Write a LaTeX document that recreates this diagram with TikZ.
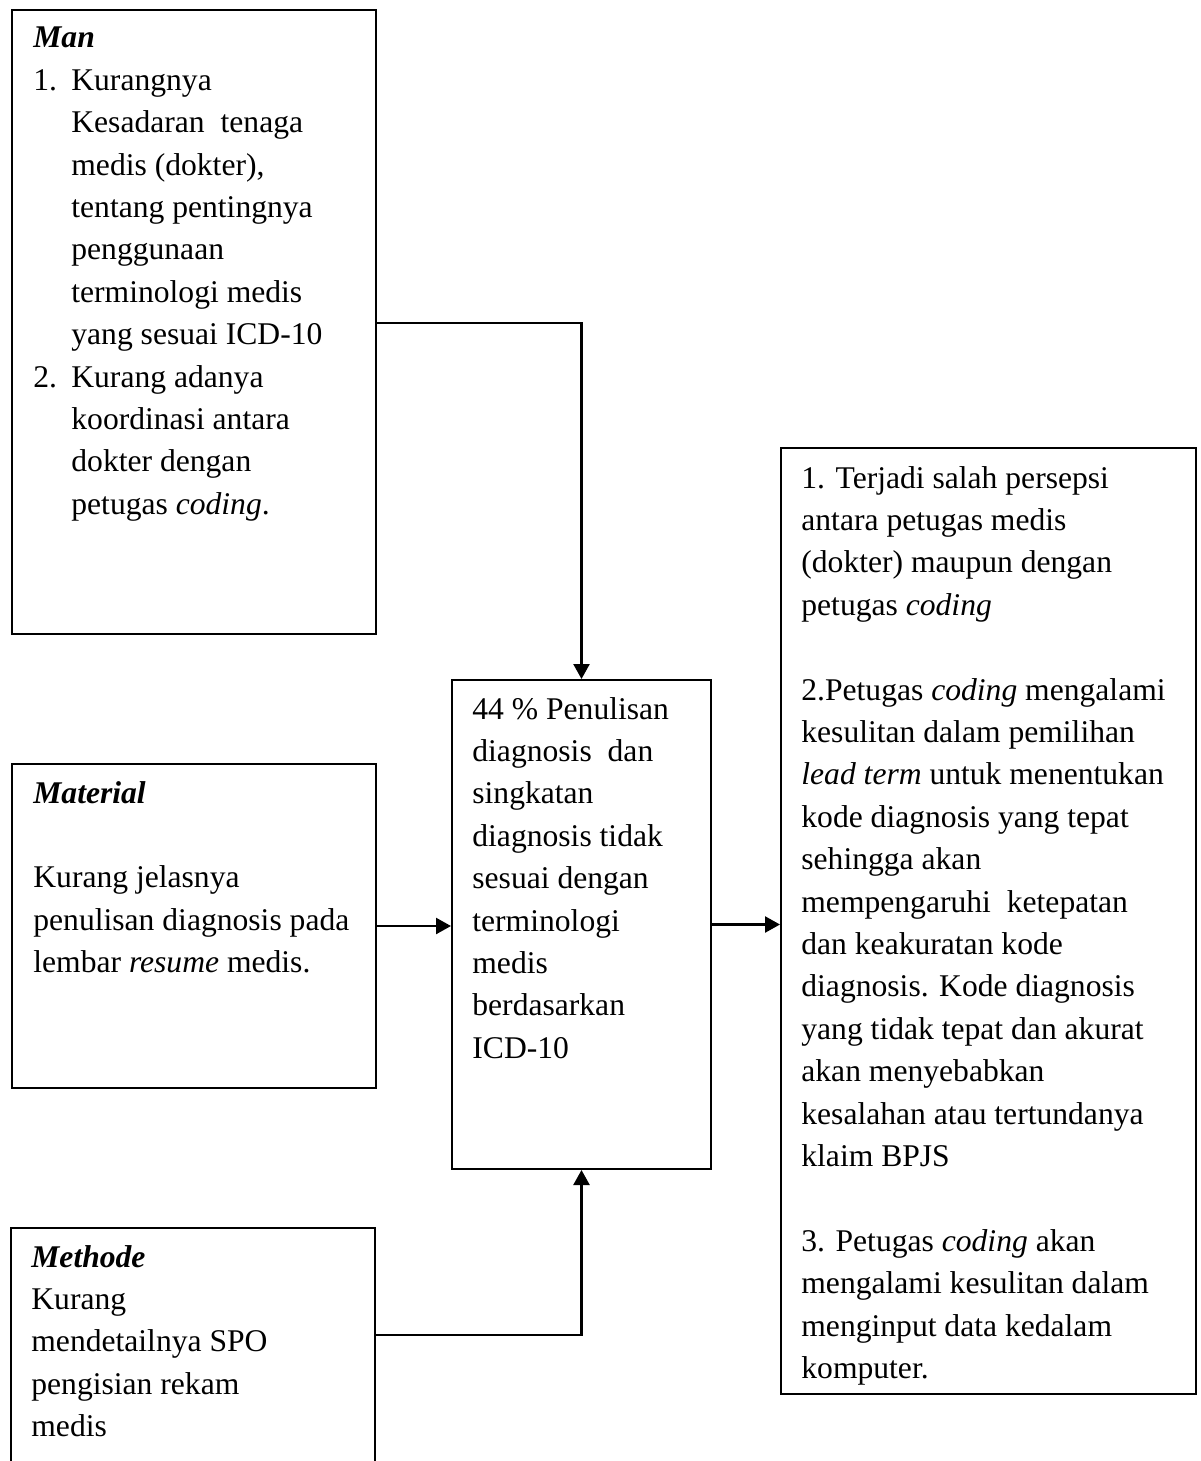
\documentclass[tikz,border=0pt]{standalone}
\usepackage{fontspec}
\setmainfont{Liberation Serif}
\usetikzlibrary{arrows.meta}
\newcommand\mylines[1]{\vtop{\baselineskip=21.2pt\lineskiplimit=-100pt\lineskip=0pt\relax #1}}
\newcommand\lbl[1]{\makebox[19pt][l]{#1}}
\newcommand\ind{\hspace*{19pt}}
\newcommand\hd[1]{\textbf{\textit{#1}}}
\begin{document}
\begin{tikzpicture}[x=0.5pt,y=-0.5pt,
  box/.style={draw, line width=1pt, anchor=north west, inner sep=0pt},
  txt/.style={anchor=base west, inner sep=0pt, font=\fontsize{15.8pt}{21.2pt}\selectfont},
  arr/.style={line width=1.2pt, -{Triangle[length=7.5pt,width=8pt]}}]
\useasboundingbox (0,0) rectangle (1200,1461);
\clip (0,0) rectangle (1200,1461);

% boxes
\node[box, minimum width=182pt, minimum height=312pt] (man) at (11,9) {};
\node[box, minimum width=182pt, minimum height=162pt] (mat) at (11,763) {};
\node[box, minimum width=182pt, minimum height=150pt] (met) at (10,1227) {};
\node[box, minimum width=129.5pt, minimum height=244.5pt] (cen) at (451,679) {};
\node[box, minimum width=207.5pt, minimum height=473pt] (res) at (780,447) {};

% texts
\node[txt] (mantext) at (33,48) {\mylines{%
\hbox{\hd{Man}}
\hbox{\lbl{1.}Kurangnya}
\hbox{\ind Kesadaran\hspace{4pt} tenaga}
\hbox{\ind medis (dokter),}
\hbox{\ind tentang pentingnya}
\hbox{\ind penggunaan}
\hbox{\ind terminologi medis}
\hbox{\ind yang sesuai ICD-10}
\hbox{\lbl{2.}Kurang adanya}
\hbox{\ind koordinasi antara}
\hbox{\ind dokter dengan}
\hbox{\ind petugas \textit{coding}.}}};

\node[txt] (mattext) at (33,803) {\mylines{%
\hbox{\hd{Material}}
\hbox{}
\hbox{Kurang jelasnya}
\hbox{penulisan diagnosis pada}
\hbox{lembar \textit{resume} medis.}}};

\node[txt] (mettext) at (31,1267) {\mylines{%
\hbox{\hd{Methode}}
\hbox{Kurang}
\hbox{mendetailnya SPO}
\hbox{pengisian rekam}
\hbox{medis}}};

\node[txt] (centext) at (472,719) {\mylines{%
\hbox{44 \% Penulisan}
\hbox{diagnosis\hspace{4pt} dan}
\hbox{singkatan}
\hbox{diagnosis tidak}
\hbox{sesuai dengan}
\hbox{terminologi}
\hbox{medis}
\hbox{berdasarkan}
\hbox{ICD-10}}};

\node[txt] (restext) at (801,488) {\mylines{%
\hbox{1. Terjadi salah persepsi}
\hbox{antara petugas medis}
\hbox{(dokter) maupun dengan}
\hbox{petugas \textit{coding}}
\hbox{}
\hbox{2.Petugas \textit{coding} mengalami}
\hbox{kesulitan dalam pemilihan}
\hbox{\textit{lead term} untuk menentukan}
\hbox{kode diagnosis yang tepat}
\hbox{sehingga akan}
\hbox{mempengaruhi\hspace{4pt} ketepatan}
\hbox{dan keakuratan kode}
\hbox{diagnosis. Kode diagnosis}
\hbox{yang tidak tepat dan akurat}
\hbox{akan menyebabkan}
\hbox{kesalahan atau tertundanya}
\hbox{klaim BPJS}
\hbox{}
\hbox{3. Petugas \textit{coding} akan}
\hbox{mengalami kesulitan dalam}
\hbox{menginput data kedalam}
\hbox{komputer.}}};

% connectors
\coordinate (m1) at (0,323);
\coordinate (m3) at (0,1335);
\draw[arr] (man.east |- m1) -| (cen.north);
\draw[arr] (mat.east) -- (cen.west |- mat.east);
\draw[arr] (met.east |- m3) -| (cen.south);
\draw[arr] (cen.east) -- (res.west |- cen.east);
\end{tikzpicture}
\end{document}
